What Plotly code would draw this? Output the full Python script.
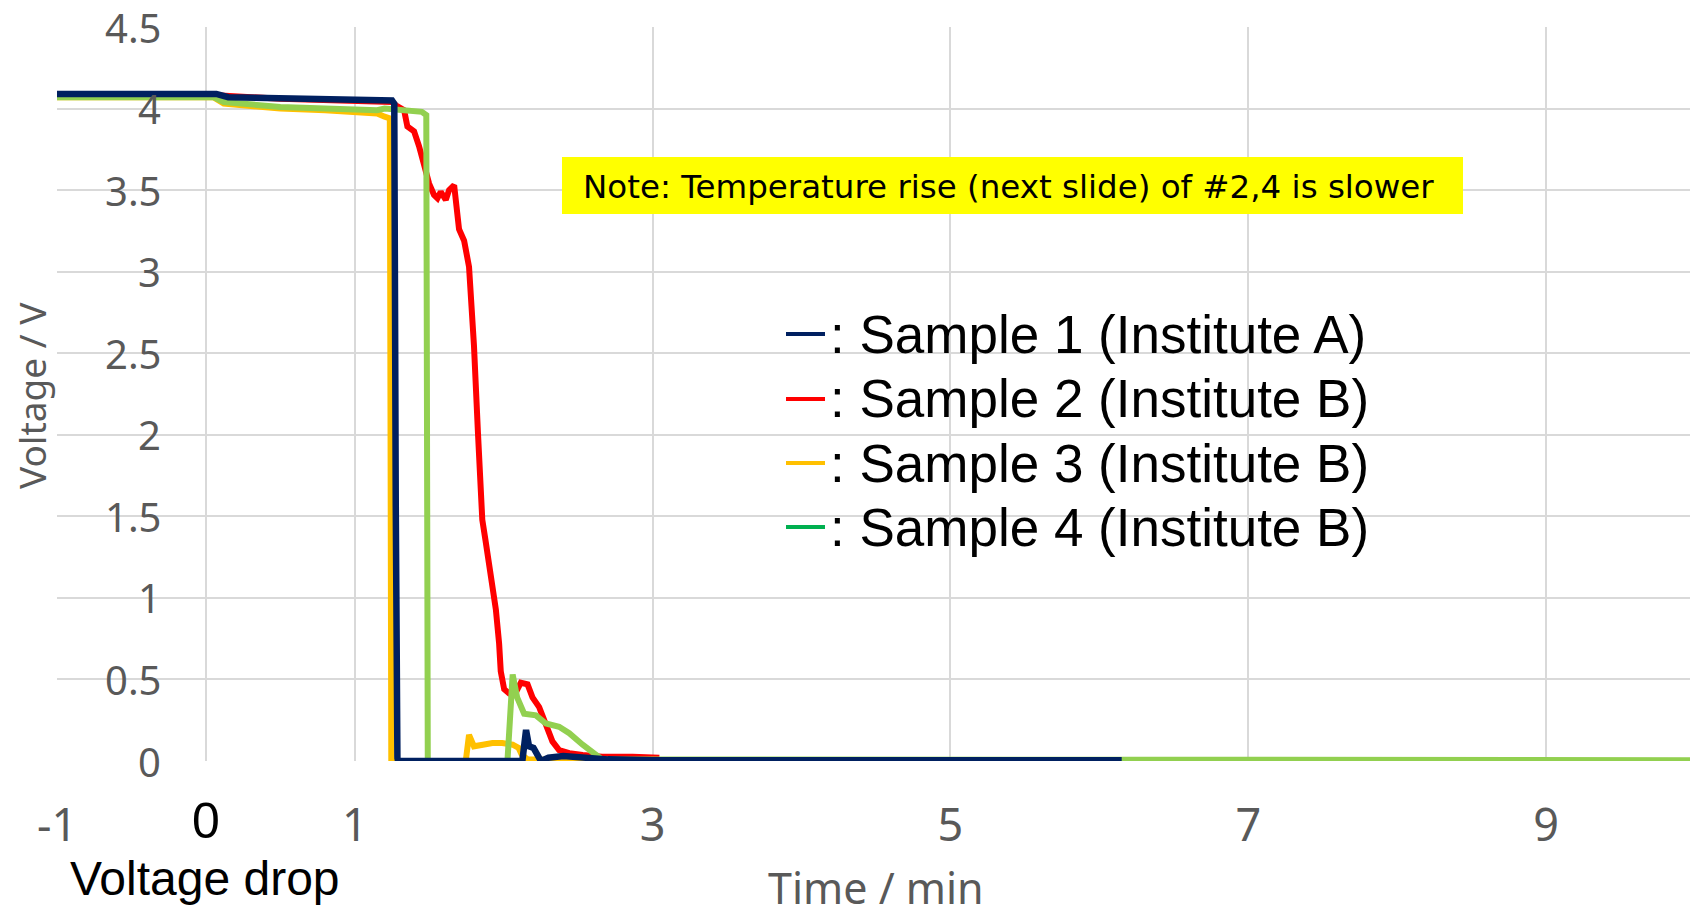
import plotly.graph_objects as go

# ---------------- data ----------------
t1 = [-1.0, 0.07, 0.15, 0.6, 1.0, 1.25, 1.265, 1.268, 1.275, 1.286, 1.29, 2.125, 2.14, 2.15, 2.17, 2.2, 2.25, 2.3, 2.4, 2.53, 2.7, 3.0, 6.15]
v1 = [4.09, 4.09, 4.07, 4.06, 4.05, 4.05, 4.03, 1.85, 1.56, 0.02, 0.0, 0.0, 0.12, 0.19, 0.09, 0.08, 0.0, 0.02, 0.03, 0.02, 0.01, 0.005, 0.005]

t2 = [-1.0, 0.1, 0.5, 1.0, 1.25, 1.275, 1.331, 1.353, 1.398, 1.431, 1.465, 1.499, 1.532, 1.555, 1.577, 1.60,
      1.611, 1.633, 1.667, 1.700, 1.734, 1.767, 1.790, 1.80, 1.827, 1.856, 1.878, 1.921, 1.947, 1.969, 1.98,
      2.003, 2.036, 2.081, 2.115, 2.16, 2.193, 2.238, 2.283, 2.327, 2.372, 2.44, 2.53, 2.66, 2.865, 3.045]
v2 = [4.08, 4.08, 4.06, 4.05, 4.04, 4.02, 3.99, 3.89, 3.86, 3.77, 3.66, 3.54, 3.47, 3.45, 3.49, 3.46,
      3.44, 3.50, 3.53, 3.26, 3.19, 3.03, 2.72, 2.55, 2.01, 1.48, 1.35, 1.08, 0.93, 0.72, 0.55,
      0.44, 0.415, 0.42, 0.48, 0.47, 0.39, 0.33, 0.21, 0.12, 0.067, 0.048, 0.037, 0.026, 0.026, 0.02]

t3 = [-1.0, 0.05, 0.12, 0.5, 0.8, 1.0, 1.15, 1.2, 1.235, 1.245, 1.745, 1.767, 1.80, 1.86, 1.924, 1.99, 2.06, 2.10, 2.12, 2.16, 2.4, 2.6]
v3 = [4.07, 4.07, 4.03, 4.0, 3.99, 3.98, 3.97, 3.95, 3.94, 0.0, 0.0, 0.16, 0.09, 0.10, 0.11, 0.11, 0.10, 0.08, 0.04, 0.01, 0.0, 0.0]

t4 = [-1.0, 0.05, 0.12, 0.5, 0.8, 1.15, 1.2, 1.3, 1.45, 1.48, 1.49, 2.025, 2.06, 2.09, 2.137, 2.216, 2.283, 2.372, 2.44, 2.53, 2.62, 2.66, 10.0]
v4 = [4.07, 4.07, 4.04, 4.01, 4.0, 3.99, 4.0, 3.99, 3.98, 3.96, 0.0, 0.0, 0.53, 0.39, 0.29, 0.28, 0.23, 0.21, 0.17, 0.10, 0.03, 0.01, 0.005]

series_names = [": Sample 1 (Institute A)", ": Sample 2 (Institute B)", ": Sample 3 (Institute B)", ": Sample 4 (Institute B)"]
line_colors = ["#002060", "#FF0000", "#FFC000", "#92D050"]
legend_colors = ["#002060", "#FF0000", "#FFC000", "#00B050"]

x_tickvals = [-1, 0, 1, 3, 5, 7, 9]
x_ticktext = ["-1", "", "1", "3", "5", "7", "9"]
y_tickvals = [0, 0.5, 1, 1.5, 2, 2.5, 3, 3.5, 4, 4.5]
y_ticktext = ["0", "0.5", "1", "1.5", "2", "2.5", "3", "3.5", "4", "4.5"]

note_text = "Note: Temperature rise (next slide) of #2,4 is slower"

# ---------------- figure ----------------
O = 8  # page body margin offset
W, H = 1698 - O, 911 - O
L, R, T, B = 57 - O, 3, 27 - O, 150
pw, ph = W - L - R, H - T - B


def px(xp):
    return (xp - O - L) / pw


def py(yp):
    return (H - B - (yp - O)) / ph


fig = go.Figure()
series = [(t1, v1), (t2, v2), (t3, v3), (t4, v4)]
widths = [6.5, 6, 6, 6]
for idx in [1, 2, 3, 0]:
    tx, vy = series[idx]
    fig.add_trace(go.Scatter(x=tx, y=vy, mode="lines", name=series_names[idx],
                             line=dict(color=line_colors[idx], width=widths[idx]),
                             showlegend=False, hoverinfo="skip"))

tick_font = dict(family="Noto Sans", color="#595959")

annotations = []
# y tick labels (inside plot area, right aligned)
for v, s in zip(y_tickvals, y_ticktext):
    annotations.append(dict(x=px(162), xref="paper", y=v, yref="y", text=s, showarrow=False,
                            xanchor="right", yanchor="middle", borderpad=0,
                            font=dict(size=40, **tick_font)))
# black "0" and "Voltage drop"
annotations.append(dict(x=0, xref="x", y=py(821), yref="paper", text="0", showarrow=False,
                        xanchor="center", yanchor="middle",
                        font=dict(family="Liberation Sans", size=50, color="black")))
annotations.append(dict(x=px(205), xref="paper", y=py(878), yref="paper", text="Voltage drop", showarrow=False,
                        xanchor="center", yanchor="middle",
                        font=dict(family="Liberation Sans", size=48, color="black")))
# axis titles
annotations.append(dict(x=px(32), xref="paper", y=py(396), yref="paper", text="Voltage / V", showarrow=False,
                        textangle=-90, xanchor="center", yanchor="middle",
                        font=dict(size=37, **tick_font)))
annotations.append(dict(x=px(876), xref="paper", y=py(887), yref="paper", text="Time / min", showarrow=False,
                        xanchor="center", yanchor="middle", borderpad=0,
                        font=dict(size=43, **tick_font)))
# note
annotations.append(dict(x=px(581), xref="paper", y=py(187), yref="paper", text=note_text, showarrow=False,
                        xanchor="left", yanchor="middle",
                        font=dict(family="DejaVu Sans", size=32.5, color="black")))

shapes = [dict(type="rect", xref="paper", yref="paper", x0=px(562), x1=px(1463), y0=py(214), y1=py(157),
               fillcolor="#FFFF00", line=dict(width=0), layer="above")]

# custom legend
row_y = [334, 399, 463, 527]
for name, col, ry in zip(series_names, legend_colors, row_y):
    shapes.append(dict(type="line", xref="paper", yref="paper", x0=px(786), x1=px(825), y0=py(ry), y1=py(ry),
                       line=dict(color=col, width=4), layer="above"))
    annotations.append(dict(x=px(828), xref="paper", y=py(ry), yref="paper", text=name, showarrow=False,
                            xanchor="left", yanchor="middle",
                            font=dict(family="Liberation Sans", size=53, color="black")))

fig.update_layout(
    width=W, height=H,
    margin=dict(l=L, r=R, t=T, b=B, pad=0),
    paper_bgcolor="white", plot_bgcolor="white",
    showlegend=False,
    annotations=annotations,
    shapes=shapes,
    xaxis=dict(range=[-1, 10], tickmode="array", tickvals=x_tickvals, ticktext=x_ticktext,
               showgrid=True, gridcolor="#D9D9D9", gridwidth=2, zeroline=False, showline=False,
               ticks="", ticklabelstandoff=34, tickfont=dict(size=45, **tick_font)),
    yaxis=dict(range=[0, 4.5], tickmode="array", tickvals=y_tickvals, showticklabels=False,
               showgrid=True, gridcolor="#D9D9D9", gridwidth=2, zeroline=False, showline=False,
               ticks=""),
)

fig.write_html("out.html")
